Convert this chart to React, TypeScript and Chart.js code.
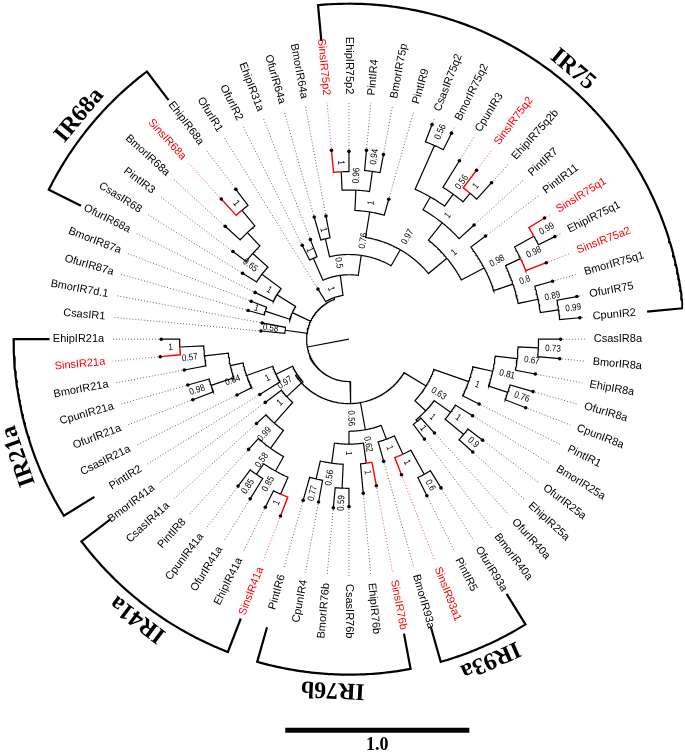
import React, { useEffect, useRef } from "react";
import { Chart, registerables } from "chart.js";

Chart.register(...registerables);

// ---------------- DATA ----------------
// Tree in Newick-like form, leaves listed counter-clockwise.
// "name:h" -> h = node height from the centre in tree units (scale bar = 1.0);
// ")s:h" -> internal node with support value s.
const ROOT_HEIGHT = 0.12;

const TREE_IR75_SIDE =
  "(((((((((CpunIR2:1.26,OfurIR75:1.26)0.99:1.15,BmorIR75q1:1.15)0.89:1.05," +
  "(SinsIR75a2:1.15,(EhipIR75q1:1.25,SinsIR75q1:1.25)0.99:1.15)0.98:1.03)0.8:0.94," +
  "PintIR11:0.93)0.98:0.83,(PintIR7:0.92,(((EhipIR75q2b:1.15,SinsIR75q2:1.15)1:1.03," +
  "CpunIR3:1.14)0.56:0.97,(BmorIR75q2:1.25,CsasIR75q2:1.25)0.56:1.15):0.89)1:0.81)1:0.69," +
  "(PintIR9:0.79,((BmorIR75p:1.02,PintIR4:1.03)0.94:0.92,(EhipIR75p2:1.02,SinsIR75p2:1.03)1:0.91)0.96:0.81)1:0.70)0.97:0.56," +
  "(BmorIR64a:0.68,OfurIR64a:0.69)1:0.56)0.76:0.46,(EhipIR31a:0.58,OfurIR2:0.57)1:0.48)0.5:0.35," +
  "OfurIR1:0.32)1:0.24";

const TREE_IR68A_SIDE =
  "(((((((EhipIR68a:1.02,SinsIR68a:1.03)1:0.91,BmorIR68a:0.91):0.80,PintIR3:0.79):0.70," +
  "CsasIR68:0.68)0.65:0.59,OfurIR68a:0.57)1:0.46,(BmorIR87a:0.57,OfurIR87a:0.57)1:0.48):0.34," +
  "(BmorIR7d.1:0.48,CsasIR1:0.48)0.58:0.35):0.23";

const TREE_LOWER_SIDE =
  "(((((((EhipIR21a:1.02,SinsIR21a:1.03)1:0.92,BmorIR21a:0.91)0.57:0.79," +
  "(CpunIR21a:0.91,OfurIR21a:0.91)0.98:0.79):0.66,CsasIR21a:0.68)0.64:0.59,PintIR2:0.57)1:0.44," +
  "(BmorIR41a:0.57,(CsasIR41a:0.68,(PintIR8:0.81,((CpunIR41a:1.00,OfurIR41a:1.02)0.85:0.89," +
  "(EhipIR41a:1.02,SinsIR41a:1.03)1:0.92)0.85:0.82)0.58:0.73)0.99:0.61)1:0.46)0.97:0.34," +
  "((((PintIR6:0.91,CpunIR4:0.90)0.77:0.78,(BmorIR76b:0.92,CsasIR76b:0.91)0.59:0.81)0.56:0.68," +
  "(EhipIR76b:0.84,SinsIR76b:0.81)1:0.68)1:0.57,(BmorIR93a:0.69,(SinsIR93a1:0.79," +
  "(PintIR5:0.95,OfurIR93a:0.95)0.6:0.84)1:0.69)1:0.58)0.62:0.50," +
  "(((BmorIR40a:0.68,OfurIR40a:0.69)1:0.58,((EhipIR25a:0.91,OfurIR25a:0.91)0.9:0.81,BmorIR25a:0.79)1:0.68)1:0.57," +
  "(PintIR1:0.79,((CpunIR8a:1.03,OfurIR8a:1.04)0.76:0.91,(EhipIR8a:1.03,(BmorIR8a:1.15,CsasIR8a:1.15)0.73:1.03)0.67:0.92)0.81:0.80)1:0.69)0.63:0.49)0.56:0.35):0.23";

const HIGHLIGHT_PREFIX = "Sins";

const CLADE_NAMES = ["IR75", "IR68a", "IR21a", "IR41a", "IR76b", "IR93a"];
const CLADE_FIRST_LEAF = ["CpunIR2", "EhipIR68a", "EhipIR21a", "BmorIR41a", "PintIR6", "BmorIR93a"];
const CLADE_LAST_LEAF = ["SinsIR75p2", "OfurIR68a", "PintIR2", "SinsIR41a", "SinsIR76b", "OfurIR93a"];

const SCALE_BAR_LENGTH = 1.0;
const SCALE_BAR_LABEL = "1.0";

// ---------------- LAYOUT / STYLE ----------------
const W = 685;
const H = 753;
const CENTER_PX_X = 349;
const CENTER_PX_Y = 339;
const PX_PER_UNIT = 185;
const DOT_END = 1.29;
const LABEL_R = 1.33;
const BRACKET_R = 1.822;
const BRACKET_IN = 1.627;
const CLADE_LABEL_R = 1.903;
const CLADE_LABEL_NUDGE = [0, 0, 3.6, 0, 0, 0];
const SCALE_X0 = -0.346;
const SCALE_Y = -2.124;
const SUPPORT_GAP_PX = 7;
const SUPPORT_SX = 0.85;
const RED = "#ff0000";
const LEAF_FONT = '11px "Liberation Sans", Arial, sans-serif';
const SUPPORT_FONT = '9.5px "Liberation Sans", Arial, sans-serif';
const CLADE_FONT = 'bold 24px "Liberation Serif", "Times New Roman", serif';
const SCALE_FONT = 'bold 18px "Liberation Serif", "Times New Roman", serif';

type TNode = {
  name: string;
  support: string;
  depth: number;
  children: TNode[];
  angle: number;
};

function parseTree(src: string): TNode {
  const s = src.replace(/\s+/g, "");
  let i = 0;
  const readNode = (): TNode => {
    const node: TNode = { name: "", support: "", depth: 0, children: [], angle: 0 };
    if (s[i] === "(") {
      i++;
      node.children.push(readNode());
      while (s[i] === ",") {
        i++;
        node.children.push(readNode());
      }
      i++; // ')'
    }
    let label = "";
    while (i < s.length && ":,()".indexOf(s[i]) < 0) label += s[i++];
    if (s[i] === ":") {
      i++;
      let num = "";
      while (i < s.length && ",()".indexOf(s[i]) < 0) num += s[i++];
      node.depth = parseFloat(num);
    }
    if (node.children.length) node.support = label;
    else node.name = label;
    return node;
  };
  return readNode();
}

function layoutTree(root: TNode) {
  const leaves: TNode[] = [];
  const nodes: TNode[] = [];
  const walk = (n: TNode) => {
    nodes.push(n);
    if (!n.children.length) leaves.push(n);
    n.children.forEach(walk);
  };
  walk(root);
  const step = 360 / leaves.length;
  leaves.forEach((l, k) => (l.angle = (k + 1) * step));
  const setAngle = (n: TNode) => {
    if (n.children.length) {
      n.children.forEach(setAngle);
      n.angle = (n.children[0].angle + n.children[n.children.length - 1].angle) / 2;
    }
  };
  setAngle(root);
  return { leaves, nodes };
}

const rad = (d: number) => (d * Math.PI) / 180;
const P = (r: number, a: number) => ({ x: r * Math.cos(rad(a)), y: r * Math.sin(rad(a)) });
const GAP: any = { x: null, y: null };

function pushArc(r: number, a0: number, a1: number, out: any[]) {
  const n = Math.max(1, Math.ceil(Math.abs(a1 - a0) / 0.5));
  for (let i = 0; i <= n; i++) out.push(P(r, a0 + ((a1 - a0) * i) / n));
}

export default function App() {
  const ref = useRef<HTMLCanvasElement>(null);

  useEffect(() => {
    document.body.style.margin = "0";
    const canvas = ref.current;
    if (!canvas) return;

    const root = parseTree(`(${TREE_IR75_SIDE},${TREE_IR68A_SIDE},${TREE_LOWER_SIDE}):${ROOT_HEIGHT}`);
    const { leaves, nodes } = layoutTree(root);
    const byName: Record<string, TNode> = {};
    leaves.forEach((l) => (byName[l.name] = l));
    const isRed = (n: TNode) => !n.children.length && n.name.indexOf(HIGHLIGHT_PREFIX) === 0;

    const black: any[] = [];
    const red: any[] = [];
    const dotBlack: any[] = [];
    const dotRed: any[] = [];
    const tips: any[] = [];
    const brackets: any[] = [];

    black.push(P(0, root.angle), P(root.depth, root.angle), GAP);
    nodes.forEach((n) => {
      n.children.forEach((c) => {
        const arr = isRed(c) ? red : black;
        pushArc(n.depth, n.angle, c.angle, arr);
        arr.push(P(c.depth, c.angle), GAP);
      });
    });
    leaves.forEach((l) => {
      const arr = isRed(l) ? dotRed : dotBlack;
      arr.push(P(l.depth + 0.012, l.angle), P(DOT_END, l.angle), GAP);
      tips.push(P(l.depth, l.angle));
    });
    CLADE_NAMES.forEach((_, i) => {
      const a0 = byName[CLADE_FIRST_LEAF[i]].angle;
      const a1 = byName[CLADE_LAST_LEAF[i]].angle;
      brackets.push(P(BRACKET_IN, a0));
      pushArc(BRACKET_R, a0, a1, brackets);
      brackets.push(P(BRACKET_IN, a1), GAP);
    });
    const scaleBar = [
      { x: SCALE_X0, y: SCALE_Y },
      { x: SCALE_X0 + SCALE_BAR_LENGTH, y: SCALE_Y },
    ];

    const lineDs = (data: any[], color: string, width: number, dash: number[] = []) => ({
      data,
      showLine: true,
      borderColor: color,
      borderWidth: width,
      borderDash: dash,
      pointRadius: 0,
      pointHoverRadius: 0,
      spanGaps: false,
      tension: 0,
      fill: false,
      borderCapStyle: "butt",
      borderJoinStyle: "miter",
    });

    const textPlugin = {
      id: "treeText",
      afterDatasetsDraw(chart: any) {
        const ctx = chart.ctx as CanvasRenderingContext2D;
        const xs = chart.scales.x;
        const ys = chart.scales.y;
        const px = (r: number, a: number) => {
          const p = P(r, a);
          return [xs.getPixelForValue(p.x), ys.getPixelForValue(p.y)];
        };
        ctx.save();
        ctx.textBaseline = "middle";

        // leaf labels
        ctx.font = LEAF_FONT;
        leaves.forEach((l) => {
          const right = l.angle < 90 || l.angle >= 270;
          const [x, y] = px(LABEL_R, l.angle);
          ctx.save();
          ctx.translate(x, y);
          ctx.rotate(-rad(l.angle) + (right ? 0 : Math.PI));
          ctx.textAlign = right ? "left" : "right";
          ctx.fillStyle = isRed(l) ? RED : "#000";
          ctx.fillText(l.name, 0, 0);
          ctx.restore();
        });

        // support values
        ctx.font = SUPPORT_FONT;
        ctx.fillStyle = "#000";
        nodes.forEach((n) => {
          if (!n.children.length || !n.support) return;
          const w = ctx.measureText(n.support).width * SUPPORT_SX;
          const r = n.depth + (SUPPORT_GAP_PX + w / 2) / PX_PER_UNIT;
          const right = n.angle < 90 || n.angle >= 270;
          const [x, y] = px(r, n.angle);
          ctx.save();
          ctx.translate(x, y);
          ctx.rotate(-rad(n.angle) + (right ? 0 : Math.PI));
          ctx.scale(SUPPORT_SX, 1);
          ctx.textAlign = "center";
          ctx.fillText(n.support, 0, 0);
          ctx.restore();
        });

        // clade labels
        ctx.font = CLADE_FONT;
        CLADE_NAMES.forEach((name, i) => {
          const a0 = byName[CLADE_FIRST_LEAF[i]].angle;
          const a1 = byName[CLADE_LAST_LEAF[i]].angle;
          const a = (a0 + a1) / 2 + CLADE_LABEL_NUDGE[i];
          const [x, y] = px(CLADE_LABEL_R, a);
          ctx.save();
          ctx.translate(x, y);
          ctx.rotate(rad(90 - a));
          ctx.textAlign = "center";
          ctx.fillText(name, 0, 0);
          ctx.restore();
        });

        // scale label
        ctx.font = SCALE_FONT;
        ctx.textAlign = "center";
        const sx = xs.getPixelForValue(SCALE_X0 + SCALE_BAR_LENGTH / 2);
        const sy = ys.getPixelForValue(SCALE_Y);
        ctx.fillText(SCALE_BAR_LABEL, sx, sy + 15);
        ctx.restore();
      },
    };

    const chart = new Chart(canvas, {
      type: "scatter",
      data: {
        datasets: [
          {
            data: tips,
            showLine: false,
            pointRadius: 1.8,
            pointHoverRadius: 1.8,
            pointBackgroundColor: "#000",
            pointBorderWidth: 0,
          } as any,
          lineDs(red, RED, 1.4),
          lineDs(black, "#000", 1.2),
          lineDs(dotRed, "#ff4a4a", 1, [1, 2]),
          lineDs(dotBlack, "#666", 1, [1, 2]),
          lineDs(brackets, "#000", 2.2),
          lineDs(scaleBar, "#000", 5),
        ],
      },
      options: {
        animation: false,
        responsive: false,
        devicePixelRatio: 1,
        events: [],
        layout: { padding: 0 },
        plugins: { legend: { display: false }, tooltip: { enabled: false } },
        scales: {
          x: {
            type: "linear",
            display: false,
            min: -CENTER_PX_X / PX_PER_UNIT,
            max: (W - CENTER_PX_X) / PX_PER_UNIT,
          },
          y: {
            type: "linear",
            display: false,
            min: -(H - CENTER_PX_Y) / PX_PER_UNIT,
            max: CENTER_PX_Y / PX_PER_UNIT,
          },
        },
      } as any,
      plugins: [textPlugin],
    } as any);

    return () => chart.destroy();
  }, []);

  return <canvas ref={ref} width={W} height={H} style={{ display: "block", width: W, height: H }} />;
}
